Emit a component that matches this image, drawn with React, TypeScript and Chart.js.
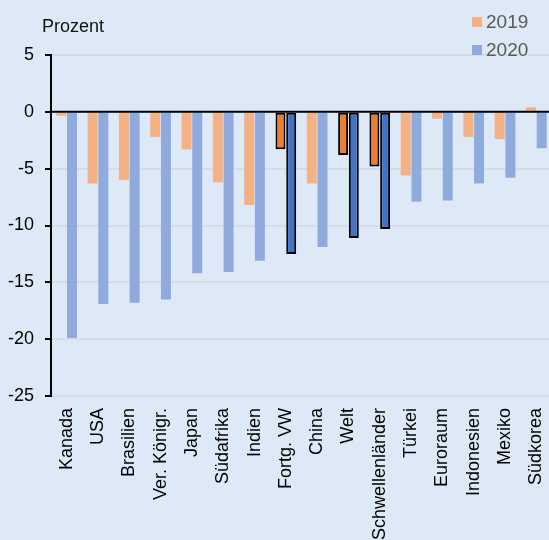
import React, { useEffect, useRef } from "react";
import { Chart, registerables } from "chart.js";

Chart.register(...registerables);

const categories = [
  "Kanada", "USA", "Brasilien", "Ver. Königr.", "Japan", "Südafrika", "Indien",
  "Fortg. VW", "China", "Welt", "Schwellenländer", "Türkei", "Euroraum",
  "Indonesien", "Mexiko", "Südkorea",
];
const values2019 = [-0.35, -6.3, -6.0, -2.2, -3.3, -6.2, -8.2, -3.3, -6.3, -3.8, -4.8, -5.6, -0.6, -2.2, -2.4, 0.4];
const values2020 = [-19.9, -16.9, -16.8, -16.5, -14.2, -14.1, -13.1, -12.5, -11.9, -11.1, -10.3, -7.9, -7.8, -6.3, -5.8, -3.2];
const highlighted = ["Fortg. VW", "Welt", "Schwellenländer"];
const seriesLabels = ["2019", "2020"];
const yMin = -25;
const yMax = 5;
const yStep = 5;
const unitLabel = "Prozent";

const BG = "#DDE9F7";
const LIGHT = ["#F4B183", "#8FAADC"];
const DARK = ["#ED7D31", "#4472C4"];
const FONT = "'Liberation Sans', Arial, sans-serif";

const zeroLine = {
  id: "zeroLine",
  afterDatasetsDraw(chart: any) {
    const { ctx, chartArea, scales } = chart;
    const py = scales.y.getPixelForValue(0);
    ctx.save();
    ctx.strokeStyle = "#000";
    ctx.lineWidth = 2;
    ctx.beginPath();
    ctx.moveTo(chartArea.left, py);
    ctx.lineTo(chartArea.right, py);
    ctx.stroke();
    ctx.restore();
  },
};

export default function App() {
  const ref = useRef<HTMLCanvasElement | null>(null);

  useEffect(() => {
    if (!ref.current) return;
    const isHi = (i: number) => highlighted.includes(categories[i]);
    const mkColors = (k: number) => categories.map((_, i) => (isHi(i) ? DARK[k] : LIGHT[k]));
    const mkBorders = () => categories.map((_, i) => (isHi(i) ? 2 : 0));
    const chart = new Chart(ref.current, {
      type: "bar",
      data: {
        labels: categories,
        datasets: [
          {
            label: seriesLabels[0],
            data: values2019,
            backgroundColor: mkColors(0),
            borderColor: "#000",
            borderWidth: mkBorders(),
            borderSkipped: false,
            categoryPercentage: 0.684,
            barPercentage: 0.93,
          },
          {
            label: seriesLabels[1],
            data: values2020,
            backgroundColor: mkColors(1),
            borderColor: "#000",
            borderWidth: mkBorders(),
            borderSkipped: false,
            categoryPercentage: 0.684,
            barPercentage: 0.93,
          },
        ],
      },
      options: {
        animation: false,
        responsive: false,
        maintainAspectRatio: false,
        layout: { padding: { top: 55, left: 0, right: 0, bottom: 0 } },
        plugins: { legend: { display: false }, tooltip: { enabled: false } },
        scales: {
          x: {
            grid: { display: false, drawTicks: false },
            border: { display: false },
            ticks: {
              autoSkip: false,
              maxRotation: 90,
              minRotation: 90,
              color: "#000",
              padding: 12,
              font: { family: FONT, size: 18 },
            },
            afterFit: (s: any) => {
              s.height = 144;
              s.paddingLeft = 0;
              s.paddingRight = 0;
            },
          },
          y: {
            min: yMin,
            max: yMax,
            ticks: {
              stepSize: yStep,
              color: "#000",
              padding: 11,
              font: { family: FONT, size: 18 },
            },
            grid: {
              color: "#D6DCE3",
              lineWidth: 2,
              tickColor: "#000",
              tickLength: 6,
              tickWidth: 2,
            },
            border: { color: "#000", width: 2 },
            afterFit: (s: any) => {
              s.width = 51;
              s.paddingTop = 0;
              s.paddingBottom = 0;
            },
          },
        },
      },
      plugins: [zeroLine],
    });
    return () => chart.destroy();
  }, []);

  const legendItem = (label: string, color: string, top: number) => (
    <div
      key={label}
      style={{ position: "absolute", left: 472, top, display: "flex", alignItems: "center", height: 20 }}
    >
      <div style={{ width: 10, height: 10, background: color, marginRight: 4 }} />
      <span style={{ fontFamily: FONT, fontSize: 19, color: "#595959", lineHeight: "20px" }}>{label}</span>
    </div>
  );

  return (
    <div
      style={{
        position: "absolute",
        left: 0,
        top: 0,
        width: 549,
        height: 540,
        overflow: "hidden",
        background: BG,
      }}
    >
      <canvas ref={ref} width={552} height={540} style={{ position: "absolute", left: 0, top: 0 }} />
      <div
        style={{
          position: "absolute",
          left: 42,
          top: 16,
          fontFamily: FONT,
          fontSize: 18,
          lineHeight: "20px",
          color: "#111",
        }}
      >
        {unitLabel}
      </div>
      {legendItem(seriesLabels[0], LIGHT[0], 12)}
      {legendItem(seriesLabels[1], LIGHT[1], 40)}
    </div>
  );
}
